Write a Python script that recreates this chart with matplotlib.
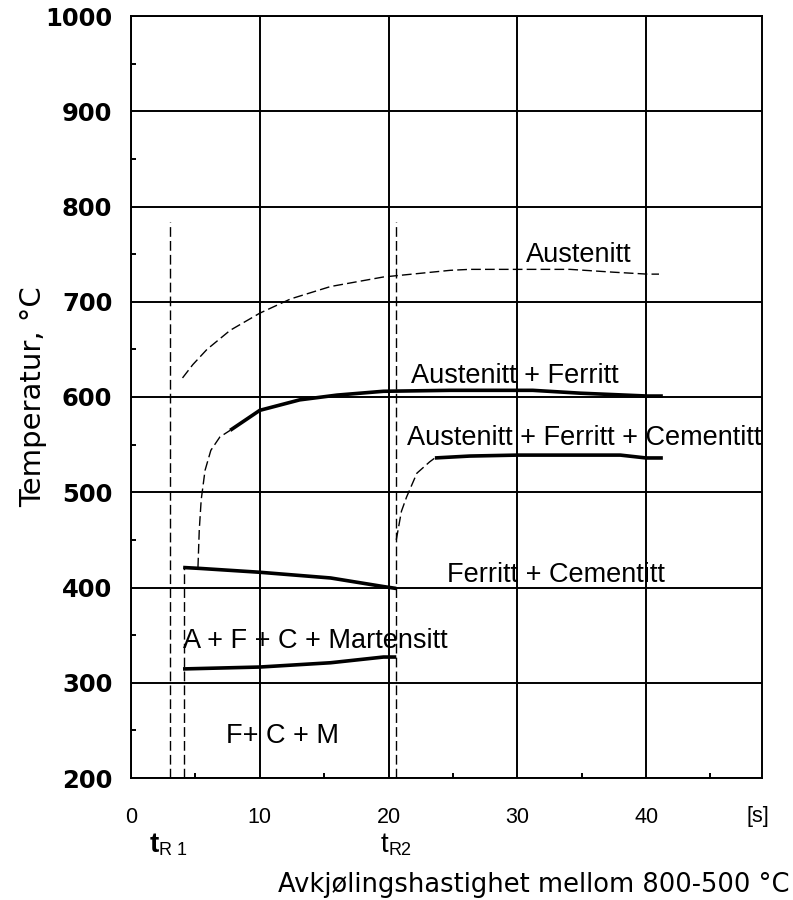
import matplotlib
matplotlib.use("Agg")
import matplotlib.pyplot as plt
import matplotlib.transforms as mtransforms
from matplotlib.ticker import MultipleLocator

# ---------------------------------------------------------------------------
# Values (x: cooling time 800-500 C [s], y: temperature)
# ---------------------------------------------------------------------------
aust_x = [4.0, 4.8, 5.9, 7.7, 10.0, 12.4, 15.5, 19.6, 24.8, 26.3, 30.0, 34.1, 37.5, 40.1, 41.0]
aust_y = [620, 634, 650, 670, 688, 703, 716, 726, 733, 734, 734, 734, 731, 729, 729]

af_dash_x = [5.2, 5.3, 5.45, 5.75, 6.2, 6.9, 7.7]
af_dash_y = [421, 460, 492, 523, 544, 558, 565]
af_x = [7.7, 10.0, 13.1, 16.0, 19.6, 24.8, 31.2, 34.9, 40.1, 41.3]
af_y = [565, 586, 597, 602, 606, 607, 607, 604, 601, 601]

afc_dash_x = [20.6, 21.0, 21.4, 22.2, 23.2, 23.6]
afc_dash_y = [450, 480, 495, 520, 532, 536]
afc_x = [23.6, 26.3, 30.0, 38.0, 40.0, 41.3]
afc_y = [536, 538, 539, 539, 536, 536]

upper_x = [4.05, 5.4, 10.0, 15.5, 19.6, 20.6]
upper_y = [421, 420, 416, 410, 401, 399]
lower_x = [4.04, 10.0, 15.5, 19.6, 20.6]
lower_y = [314.5, 316.5, 321, 327, 327]

# vertical dashed markers: x, y_top
vline_x = [3.0, 4.1, 20.6]
vline_top = [784, 421, 784]

region_labels = ["Austenitt", "Austenitt + Ferritt", "Austenitt + Ferritt + Cementitt",
                 "Ferritt + Cementitt", "A + F + C + Martensitt", "F+ C + M"]
region_x = [34.8, 29.8, 35.2, 33.0, 14.3, 11.75]
region_y = [741.7, 614.7, 549.6, 405.8, 336.5, 236.7]

x_ticks = [0, 10, 20, 30, 40]
y_ticks = [200, 300, 400, 500, 600, 700, 800, 900, 1000]

TEXT_FONT = ["Liberation Sans", "DejaVu Sans"]

fig = plt.figure(figsize=(7.93, 9.0), dpi=100)
ax = fig.add_axes([131 / 793, 1 - 778 / 900, 631 / 793, 762 / 900])

ax.set_xlim(0, 49)
ax.set_ylim(200, 1000)
ax.set_xticks(x_ticks)
ax.set_yticks(y_ticks)
ax.xaxis.set_minor_locator(MultipleLocator(5))
ax.yaxis.set_minor_locator(MultipleLocator(50))
ax.grid(True, which="major", color="black", linewidth=1.4)
ax.tick_params(which="major", length=0)
ax.tick_params(axis="x", which="major", pad=21, labelsize=15.5)
ax.tick_params(axis="y", which="major", pad=13.5, labelsize=17.5)
ax.tick_params(which="minor", direction="in", length=3.5, width=1.4, color="black")
ax.tick_params(axis="y", which="minor", right=False)
for lab in ax.get_xticklabels():
    lab.set_fontfamily(TEXT_FONT)
for lab in ax.get_yticklabels():
    lab.set_fontfamily("DejaVu Sans")
    lab.set_fontweight("bold")
for sp in ax.spines.values():
    sp.set_linewidth(1.4)
    sp.set_color("black")

# curves
thin = dict(color="black", linewidth=1.0, dashes=(7, 3))
thick = dict(color="black", linewidth=2.6, solid_capstyle="butt")
ax.plot(aust_x, aust_y, **thin)
ax.plot(af_dash_x, af_dash_y, **thin)
ax.plot(af_x, af_y, **thick)
ax.plot(afc_dash_x, afc_dash_y, **thin)
ax.plot(afc_x, afc_y, **thick)
ax.plot(upper_x, upper_y, **thick)
ax.plot(lower_x, lower_y, **thick)
for vx, vt in zip(vline_x, vline_top):
    ax.plot([vx, vx], [200, vt], **thin)

for txt, tx, ty in zip(region_labels, region_x, region_y):
    ax.text(tx, ty, txt, ha="center", va="baseline", fontsize=19.5, family=TEXT_FONT)

# labels below the axis (x in data units, y in axes fraction)
trans = mtransforms.blended_transform_factory(ax.transData, ax.transAxes)
ax.text(48.7, -0.05, "[s]", transform=trans, ha="center", va="center",
        fontsize=15.5, family=TEXT_FONT)
ax.text(1.48, -0.097, "t", transform=trans, ha="left", va="baseline",
        fontsize=20, fontweight="bold", family=TEXT_FONT)
ax.text(2.15, -0.101, "R 1", transform=trans, ha="left", va="baseline",
        fontsize=13, family=TEXT_FONT)
ax.text(19.35, -0.097, "t", transform=trans, ha="left", va="baseline",
        fontsize=20, family=TEXT_FONT)
ax.text(19.97, -0.101, "R2", transform=trans, ha="left", va="baseline",
        fontsize=13, family=TEXT_FONT)

ax.set_ylabel("Temperatur, °C", fontsize=21, family="DejaVu Sans")
ax.yaxis.set_label_coords(-0.133, 0.5)
ax.set_xlabel("Avkjølingshastighet mellom 800-500 °C", fontsize=18.5, family="DejaVu Sans")
ax.xaxis.set_label_coords((790 - 131) / 631, -(872 - 778) / 762)
ax.xaxis.label.set_horizontalalignment("right")

fig.savefig("out.png", dpi=100)
